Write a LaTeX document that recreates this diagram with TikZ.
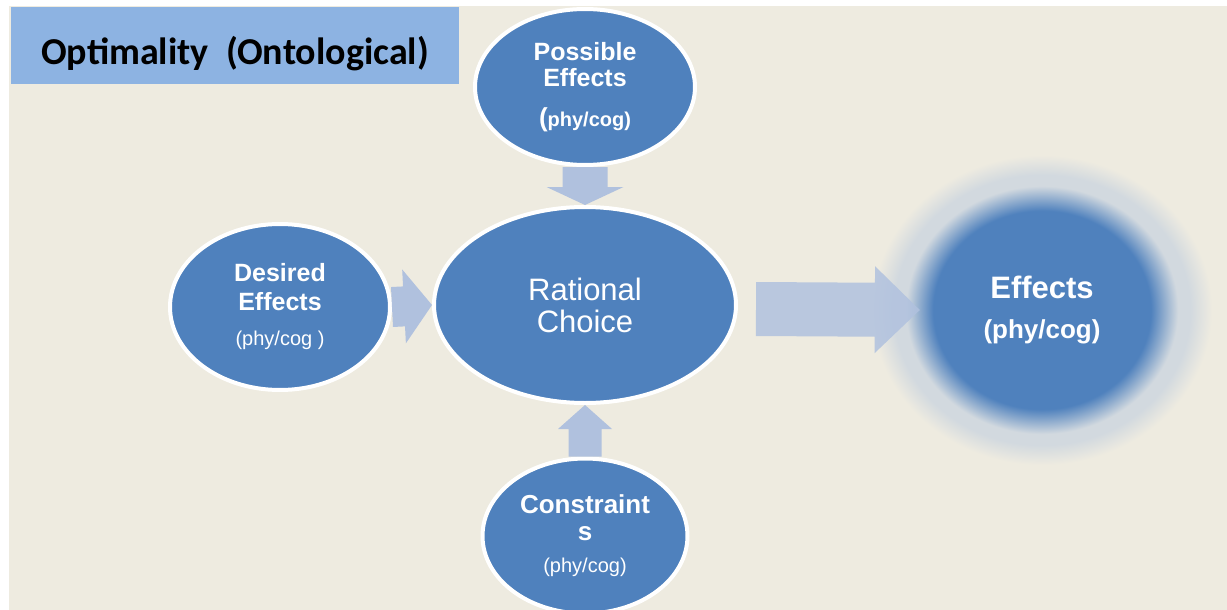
\documentclass[tikz,border=0pt]{standalone}
\usepackage{fontspec}
\setmainfont{Liberation Sans}
\newfontfamily\titlefont{Carlito}
\usetikzlibrary{shapes.geometric,calc}

\definecolor{pagebg}{HTML}{EEEBE0}
\definecolor{titlebg}{HTML}{8DB3E2}
\definecolor{bubbleblue}{HTML}{4F81BD}
\definecolor{arrowblue}{HTML}{B0C1DE}
\definecolor{halo}{HTML}{D2D9DF}

\pgfdeclareradialshading{effectglow}{\pgfpoint{0bp}{0bp}}{color(0bp)=(bubbleblue); color(16bp)=(bubbleblue); color(20bp)=(halo); color(21.8bp)=(halo); color(25bp)=(pagebg); color(50bp)=(pagebg)}

% block arrow between two points: from, to, shaft half width, head half width, head length
\newcommand\blockarrow[6][]{%
  \coordinate (hb) at ($(#3)!#6!(#2)$);
  \fill[arrowblue,#1] ($(#2)!#4!90:(#3)$) -- ($(hb)!#4!90:(#3)$) -- ($(hb)!#5!90:(#3)$) -- (#3)
    -- ($(hb)!#5!-90:(#3)$) -- ($(hb)!#4!-90:(#3)$) -- ($(#2)!#4!-90:(#3)$) -- cycle;
}

\tikzset{
  bubble/.style={ellipse, fill=bubbleblue, draw=white, line width=4pt, text=white, align=center, inner sep=0pt},
  titlebox/.style={fill=titlebg, minimum width=448pt, minimum height=77pt, inner sep=0pt,
    text height=39pt, text depth=0pt, font=\titlefont\bfseries\fontsize{38}{38}\selectfont}
}

\begin{document}
\begin{tikzpicture}[x=1pt, y=-1pt]
    \useasboundingbox (0,0) rectangle (1227,610);
    \fill[white] (0,0) rectangle (1227,610);
    \fill[pagebg] (9,6) rectangle (1227,610);

    \node[titlebox] (title) at (235,45.5) {Optimality\ \ (Ontological)};

    \node[bubble, minimum width=220pt, minimum height=156pt,
      font=\bfseries\fontsize{25}{26}\selectfont] (possible) at (585,87)
      {Possible\\Effects\\[14pt]{\fontsize{20}{24}\selectfont{\fontsize{26}{26}\selectfont(}phy/cog)}};
    \node[bubble, minimum width=302pt, minimum height=196pt,
      font=\fontsize{31}{32}\selectfont] (rational) at (585,305) {Rational\\Choice};
    \node[bubble, minimum width=220pt, minimum height=166pt,
      font=\bfseries\fontsize{25}{29}\selectfont] (desired) at (280,307)
      {Desired\\Effects\\[6pt]{\mdseries\fontsize{20}{24}\selectfont(phy/cog )}};
    \node[bubble, minimum width=205pt, minimum height=155pt,
      font=\bfseries\fontsize{26}{27}\selectfont] (constraints) at (585,536)
      {Constraint\\s\\[5pt]{\mdseries\fontsize{20}{24}\selectfont(phy/cog)}};

    \shade[shading=effectglow] (1042,310) ellipse [x radius=170pt, y radius=155pt];
    \node[ellipse, minimum width=244pt, minimum height=226pt, inner sep=0pt, text=white, align=center,
      font=\bfseries\fontsize{31}{31}\selectfont] (effects) at (1042,310)
      {Effects\\[9pt]{\fontsize{26}{26}\selectfont(phy/cog)}};
    \coordinate (choiceout) at (756,309);

    \blockarrow{possible.south}{rational.north}{22.5pt}{38.5pt}{18pt}
    \blockarrow{desired.east}{rational.west}{20pt}{37pt}{28pt}
    \blockarrow{constraints.north}{rational.south}{16.5pt}{27pt}{24pt}
    \blockarrow[opacity=0.85]{choiceout}{effects.west}{27pt}{43.5pt}{45pt}
\end{tikzpicture}
\end{document}
